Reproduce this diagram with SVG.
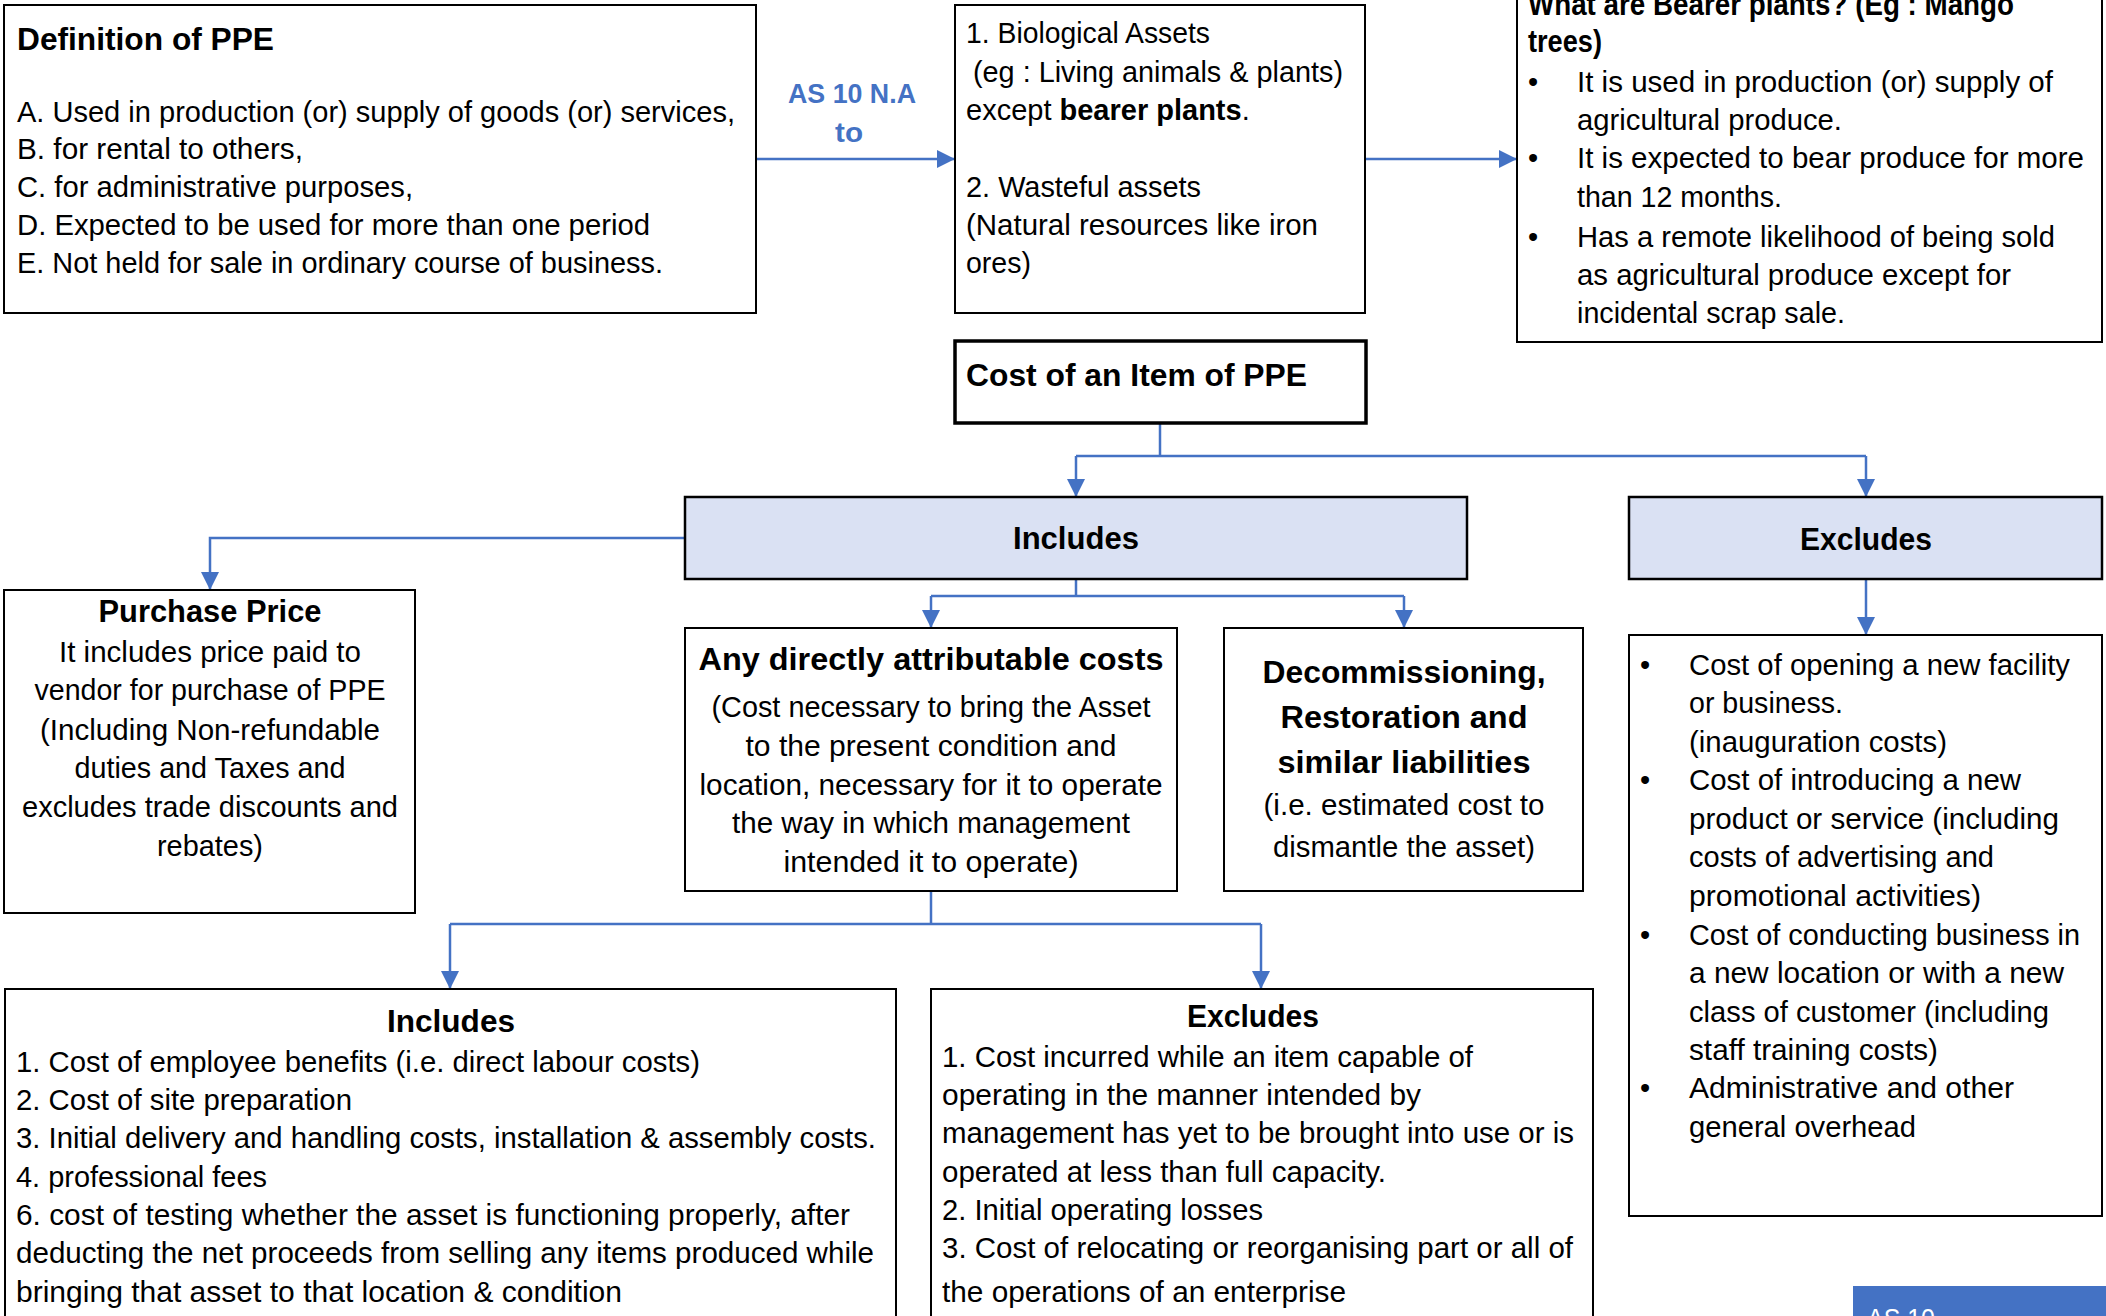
<svg xmlns="http://www.w3.org/2000/svg" width="2106" height="1316" viewBox="0 0 2106 1316">
<style>
.box{fill:#fff;stroke:#000;stroke-width:2}
.hdr{fill:#DAE1F3;stroke:#000;stroke-width:2.5}
text{font-family:'Liberation Sans',Arial,sans-serif;font-size:29px;fill:#000}
.b{font-weight:bold;font-size:31px}
.c{text-anchor:middle}
.conn{fill:none;stroke:#4472C4;stroke-width:2.5}
.lbl{fill:#4472C4;font-weight:bold;font-size:27px;text-anchor:middle}
</style>
<defs>
<marker id="arr" markerUnits="userSpaceOnUse" markerWidth="18" markerHeight="18" refX="18" refY="9" orient="auto">
<path d="M0,0 L18,9 L0,18 z" fill="#4472C4"/>
</marker>
</defs>
<rect width="2106" height="1316" fill="#fff"/>

<g id="connectors">
<path class="conn" d="M756,159 H955" marker-end="url(#arr)"/>
<path class="conn" d="M1366,159 H1517" marker-end="url(#arr)"/>
<path class="conn" d="M1160,423 V456"/>
<path class="conn" d="M1076,456 H1866"/>
<path class="conn" d="M1076,456 V497" marker-end="url(#arr)"/>
<path class="conn" d="M1866,456 V497" marker-end="url(#arr)"/>
<path class="conn" d="M685,538 H210 V590" marker-end="url(#arr)"/>
<path class="conn" d="M1076,579 V596"/>
<path class="conn" d="M931,596 H1404"/>
<path class="conn" d="M931,596 V628" marker-end="url(#arr)"/>
<path class="conn" d="M1404,596 V628" marker-end="url(#arr)"/>
<path class="conn" d="M1866,579 V635" marker-end="url(#arr)"/>
<path class="conn" d="M931,891 V924"/>
<path class="conn" d="M450,924 H1261"/>
<path class="conn" d="M450,924 V989" marker-end="url(#arr)"/>
<path class="conn" d="M1261,924 V989" marker-end="url(#arr)"/>
<text class="lbl" x="852" y="103" textLength="128" lengthAdjust="spacingAndGlyphs">AS 10 N.A</text>
<text class="lbl" x="849" y="142" textLength="28" lengthAdjust="spacingAndGlyphs">to</text>
</g>

<g id="definition">
<rect class="box" x="4" y="5" width="752" height="308"/>
<text class="b" x="17" y="50" textLength="257" lengthAdjust="spacingAndGlyphs">Definition of PPE</text>
<text x="17" y="122" textLength="718" lengthAdjust="spacingAndGlyphs">A. Used in production (or) supply of goods (or) services,</text>
<text x="17" y="159" textLength="286" lengthAdjust="spacingAndGlyphs">B. for rental to others,</text>
<text x="17" y="197" textLength="396" lengthAdjust="spacingAndGlyphs">C. for administrative purposes,</text>
<text x="17" y="235" textLength="633" lengthAdjust="spacingAndGlyphs">D. Expected to be used for more than one period</text>
<text x="17" y="273" textLength="646" lengthAdjust="spacingAndGlyphs">E. Not held for sale in ordinary course of business.</text>
</g>

<g id="not-applicable">
<rect class="box" x="955" y="5" width="410" height="308"/>
<text x="966" y="43" textLength="244" lengthAdjust="spacingAndGlyphs">1. Biological Assets</text>
<text x="973" y="82" textLength="370" lengthAdjust="spacingAndGlyphs">(eg : Living animals &amp; plants)</text>
<text x="966" y="120">except <tspan font-weight="bold">bearer plants</tspan>.</text>
<text x="966" y="197" textLength="235" lengthAdjust="spacingAndGlyphs">2. Wasteful assets</text>
<text x="966" y="235" textLength="352" lengthAdjust="spacingAndGlyphs">(Natural resources like iron</text>
<text x="966" y="273" textLength="65" lengthAdjust="spacingAndGlyphs">ores)</text>
</g>

<g id="bearer-plants">
<rect class="box" x="1517" y="-10" width="585" height="352"/>
<text class="b" x="1528" y="15" textLength="486" lengthAdjust="spacingAndGlyphs">What are Bearer plants? (Eg : Mango</text>
<text class="b" x="1528" y="52" textLength="74" lengthAdjust="spacingAndGlyphs">trees)</text>
<text x="1528" y="92">•</text>
<text x="1528" y="168">•</text>
<text x="1528" y="247">•</text>
<text x="1577" y="92" textLength="476" lengthAdjust="spacingAndGlyphs">It is used in production (or) supply of</text>
<text x="1577" y="130" textLength="265" lengthAdjust="spacingAndGlyphs">agricultural produce.</text>
<text x="1577" y="168" textLength="507" lengthAdjust="spacingAndGlyphs">It is expected to bear produce for more</text>
<text x="1577" y="207" textLength="205" lengthAdjust="spacingAndGlyphs">than 12 months.</text>
<text x="1577" y="247" textLength="478" lengthAdjust="spacingAndGlyphs">Has a remote likelihood of being sold</text>
<text x="1577" y="285" textLength="434" lengthAdjust="spacingAndGlyphs">as agricultural produce except for</text>
<text x="1577" y="323" textLength="268" lengthAdjust="spacingAndGlyphs">incidental scrap sale.</text>
</g>

<g id="cost-item">
<rect x="955" y="341" width="411" height="82" fill="#fff" stroke="#000" stroke-width="3.5"/>
<text class="b" x="966" y="386" textLength="341" lengthAdjust="spacingAndGlyphs">Cost of an Item of PPE</text>
</g>

<g id="includes">
<rect class="hdr" x="685" y="497" width="782" height="82"/>
<text class="b c" x="1076" y="549" textLength="126" lengthAdjust="spacingAndGlyphs">Includes</text>
</g>

<g id="excludes">
<rect class="hdr" x="1629" y="497" width="473" height="82"/>
<text class="b c" x="1866" y="550" textLength="132" lengthAdjust="spacingAndGlyphs">Excludes</text>
</g>

<g id="purchase-price">
<rect class="box" x="4" y="590" width="411" height="323"/>
<text class="b c" x="210" y="622" textLength="223" lengthAdjust="spacingAndGlyphs">Purchase Price</text>
<text class="c" x="210" y="662" textLength="302" lengthAdjust="spacingAndGlyphs">It includes price paid to</text>
<text class="c" x="210" y="700" textLength="351" lengthAdjust="spacingAndGlyphs">vendor for purchase of PPE</text>
<text class="c" x="210" y="740" textLength="340" lengthAdjust="spacingAndGlyphs">(Including Non-refundable</text>
<text class="c" x="210" y="778" textLength="271" lengthAdjust="spacingAndGlyphs">duties and Taxes and</text>
<text class="c" x="210" y="817" textLength="376" lengthAdjust="spacingAndGlyphs">excludes trade discounts and</text>
<text class="c" x="210" y="856" textLength="106" lengthAdjust="spacingAndGlyphs">rebates)</text>
</g>

<g id="directly-attributable">
<rect class="box" x="685" y="628" width="492" height="263"/>
<text class="b c" x="931" y="670" textLength="465" lengthAdjust="spacingAndGlyphs">Any directly attributable costs</text>
<text class="c" x="931" y="717" textLength="439" lengthAdjust="spacingAndGlyphs">(Cost necessary to bring the Asset</text>
<text class="c" x="931" y="756" textLength="371" lengthAdjust="spacingAndGlyphs">to the present condition and</text>
<text class="c" x="931" y="795" textLength="463" lengthAdjust="spacingAndGlyphs">location, necessary for it to operate</text>
<text class="c" x="931" y="833" textLength="398" lengthAdjust="spacingAndGlyphs">the way in which management</text>
<text class="c" x="931" y="872" textLength="295" lengthAdjust="spacingAndGlyphs">intended it to operate)</text>
</g>

<g id="decommissioning">
<rect class="box" x="1224" y="628" width="359" height="263"/>
<text class="b c" x="1404" y="683" textLength="283" lengthAdjust="spacingAndGlyphs">Decommissioning,</text>
<text class="b c" x="1404" y="728" textLength="247" lengthAdjust="spacingAndGlyphs">Restoration and</text>
<text class="b c" x="1404" y="773" textLength="253" lengthAdjust="spacingAndGlyphs">similar liabilities</text>
<text class="c" x="1404" y="815" textLength="281" lengthAdjust="spacingAndGlyphs">(i.e. estimated cost to</text>
<text class="c" x="1404" y="857" textLength="262" lengthAdjust="spacingAndGlyphs">dismantle the asset)</text>
</g>

<g id="excludes-list">
<rect class="box" x="1629" y="635" width="473" height="581"/>
<text x="1640" y="675">•</text>
<text x="1640" y="790">•</text>
<text x="1640" y="945">•</text>
<text x="1640" y="1098">•</text>
<text x="1689" y="675" textLength="381" lengthAdjust="spacingAndGlyphs">Cost of opening a new facility</text>
<text x="1689" y="713" textLength="154" lengthAdjust="spacingAndGlyphs">or business.</text>
<text x="1689" y="752" textLength="258" lengthAdjust="spacingAndGlyphs">(inauguration costs)</text>
<text x="1689" y="790" textLength="332" lengthAdjust="spacingAndGlyphs">Cost of introducing a new</text>
<text x="1689" y="829" textLength="370" lengthAdjust="spacingAndGlyphs">product or service (including</text>
<text x="1689" y="867" textLength="305" lengthAdjust="spacingAndGlyphs">costs of advertising and</text>
<text x="1689" y="906" textLength="292" lengthAdjust="spacingAndGlyphs">promotional activities)</text>
<text x="1689" y="945" textLength="391" lengthAdjust="spacingAndGlyphs">Cost of conducting business in</text>
<text x="1689" y="983" textLength="375" lengthAdjust="spacingAndGlyphs">a new location or with a new</text>
<text x="1689" y="1022" textLength="360" lengthAdjust="spacingAndGlyphs">class of customer (including</text>
<text x="1689" y="1060" textLength="249" lengthAdjust="spacingAndGlyphs">staff training costs)</text>
<text x="1689" y="1098" textLength="325" lengthAdjust="spacingAndGlyphs">Administrative and other</text>
<text x="1689" y="1137" textLength="227" lengthAdjust="spacingAndGlyphs">general overhead</text>
</g>

<g id="sub-includes">
<rect class="box" x="5" y="989" width="891" height="351"/>
<text class="b c" x="451" y="1032" textLength="128" lengthAdjust="spacingAndGlyphs">Includes</text>
<text x="16" y="1072" textLength="684" lengthAdjust="spacingAndGlyphs">1. Cost of employee benefits (i.e. direct labour costs)</text>
<text x="16" y="1110" textLength="336" lengthAdjust="spacingAndGlyphs">2. Cost of site preparation</text>
<text x="16" y="1148" textLength="860" lengthAdjust="spacingAndGlyphs">3. Initial delivery and handling costs, installation &amp; assembly costs.</text>
<text x="16" y="1187" textLength="251" lengthAdjust="spacingAndGlyphs">4. professional fees</text>
<text x="16" y="1225" textLength="834" lengthAdjust="spacingAndGlyphs">6. cost of testing whether the asset is functioning properly, after</text>
<text x="16" y="1263" textLength="858" lengthAdjust="spacingAndGlyphs">deducting the net proceeds from selling any items produced while</text>
<text x="16" y="1302" textLength="606" lengthAdjust="spacingAndGlyphs">bringing that asset to that location &amp; condition</text>
</g>

<g id="sub-excludes">
<rect class="box" x="931" y="989" width="662" height="351"/>
<text class="b c" x="1253" y="1027" textLength="132" lengthAdjust="spacingAndGlyphs">Excludes</text>
<text x="942" y="1067" textLength="531" lengthAdjust="spacingAndGlyphs">1. Cost incurred while an item capable of</text>
<text x="942" y="1105" textLength="479" lengthAdjust="spacingAndGlyphs">operating in the manner intended by</text>
<text x="942" y="1143" textLength="632" lengthAdjust="spacingAndGlyphs">management has yet to be brought into use or is</text>
<text x="942" y="1182" textLength="444" lengthAdjust="spacingAndGlyphs">operated at less than full capacity.</text>
<text x="942" y="1220" textLength="321" lengthAdjust="spacingAndGlyphs">2. Initial operating losses</text>
<text x="942" y="1258" textLength="631" lengthAdjust="spacingAndGlyphs">3. Cost of relocating or reorganising part or all of</text>
<text x="942" y="1302" textLength="404" lengthAdjust="spacingAndGlyphs">the operations of an enterprise</text>
</g>

<g id="as10-tag">
<rect x="1853" y="1286" width="260" height="40" fill="#4472C4"/>
<text x="1867" y="1328" style="fill:#fff;font-size:28px" textLength="68" lengthAdjust="spacingAndGlyphs">AS 10</text>
</g>
</svg>
